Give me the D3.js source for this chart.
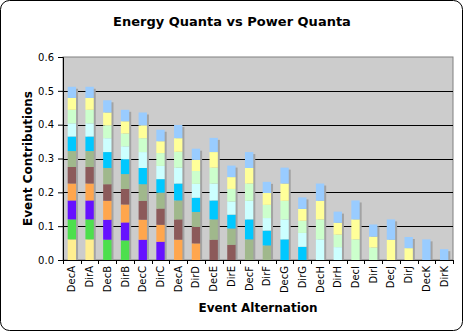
<!DOCTYPE html>
<html>
<head>
<meta charset="utf-8">
<script src="https://cdn.jsdelivr.net/npm/d3@7"></script>
<style>
  html, body { margin: 0; padding: 0; background: #fff; }
  svg { display: block; font-family: "DejaVu Sans", Verdana, sans-serif; }
</style>
</head>
<body>
<div id="chart"></div>
<script>
// categories along the x axis
const categories = ['DecA', 'DirA', 'DecB', 'DirB', 'DecC', 'DirC', 'DecA', 'DirD', 'DecE', 'DirE', 'DecF',
  'DirF', 'DecG', 'DirG', 'DecH', 'DirH', 'DecI', 'DirI', 'DecJ', 'DirJ', 'DecK', 'DirK'];

// stacked series, bottom to top
const s1 = [0.061, 0.061, 0, 0, 0, 0, 0, 0, 0, 0, 0, 0, 0, 0, 0, 0, 0, 0, 0, 0, 0, 0];
const s2 = [0.059, 0.059, 0.060, 0.058, 0, 0, 0, 0, 0, 0, 0, 0, 0, 0, 0, 0, 0, 0, 0, 0, 0, 0];
const s3 = [0.056, 0.056, 0.059, 0.053, 0.060, 0.054, 0, 0, 0, 0, 0, 0, 0, 0, 0, 0, 0, 0, 0, 0, 0, 0];
const s4 = [0.050, 0.050, 0.056, 0.053, 0.059, 0.050, 0.060, 0.049, 0, 0, 0, 0, 0, 0, 0, 0, 0, 0, 0, 0, 0, 0];
const s5 = [0.049, 0.049, 0.049, 0.046, 0.056, 0.048, 0.060, 0.049, 0.060, 0.045, 0, 0, 0, 0, 0, 0, 0, 0, 0, 0, 0, 0];
const s6 = [0.047, 0.047, 0.048, 0.044, 0.049, 0.047, 0.056, 0.044, 0.060, 0.048, 0.061, 0.043, 0, 0, 0, 0, 0, 0, 0, 0, 0, 0];
const s7 = [0.043, 0.043, 0.047, 0.044, 0.048, 0.040, 0.050, 0.042, 0.056, 0.041, 0.059, 0.044, 0.061, 0.039, 0, 0, 0, 0, 0, 0, 0, 0];
const s8 = [0.039, 0.039, 0.041, 0.038, 0.047, 0.039, 0.047, 0.041, 0.050, 0.039, 0.055, 0.037, 0.059, 0.041, 0.061, 0.038, 0, 0, 0, 0, 0, 0];
const s9 = [0.040, 0.040, 0.038, 0.038, 0.041, 0.038, 0.047, 0.038, 0.047, 0.037, 0.051, 0.039, 0.055, 0.036, 0.059, 0.037, 0.061, 0.037, 0, 0, 0, 0];
const s10 = [0.035, 0.035, 0.038, 0.036, 0.038, 0.035, 0.040, 0.033, 0.046, 0.035, 0.046, 0.035, 0.051, 0.035, 0.055, 0.035, 0.059, 0.032, 0.060, 0.035, 0, 0];
const s11 = [0.033, 0.033, 0.036, 0.034, 0.038, 0.034, 0.039, 0.033, 0.042, 0.034, 0.047, 0.033, 0.047, 0.034, 0.051, 0.033, 0.056, 0.036, 0.060, 0.033, 0.061, 0.032];

const seriesValues = [s1, s2, s3, s4, s5, s6, s7, s8, s9, s10, s11];
const seriesColors = ['#ffee90', '#4ddf4d', '#6611ff', '#ffa64d', '#8c5a5a', '#a0b88c',
  '#00c8ff', '#ccffff', '#ccffcc', '#ffff99', '#99ccff'];

const yTicks = [0, 0.1, 0.2, 0.3, 0.4, 0.5, 0.6];

const W = 465, H = 332;
const m = { left: 63, right: 12, top: 57, bottom: 72 };
const pw = W - m.left - m.right, ph = H - m.top - m.bottom;

const svg = d3.select('#chart').append('svg')
  .attr('width', W).attr('height', H);

// outer frame
svg.append('rect')
  .attr('x', 0.5).attr('y', 0.5)
  .attr('width', 462).attr('height', 330)
  .attr('rx', 9)
  .attr('fill', '#fff')
  .attr('stroke', '#000');

svg.append('text')
  .attr('x', 232).attr('y', 26)
  .attr('text-anchor', 'middle')
  .attr('font-size', 13).attr('font-weight', 'bold')
  .text('Energy Quanta vs Power Quanta');

const g = svg.append('g').attr('transform', `translate(${m.left},${m.top})`);

const idx = categories.map((_, i) => i);
const x = d3.scaleBand().domain(idx).range([0, pw]).paddingInner(0.53).paddingOuter(0.265);
const y = d3.scaleLinear().domain([0, 0.6]).range([ph, 0]);

// plot background
g.append('rect')
  .attr('width', pw).attr('height', ph)
  .attr('fill', '#cccccc')
  .attr('stroke', '#808080');

// gridlines
g.selectAll('line.grid')
  .data(yTicks.filter(t => t > 0 && t < 0.6))
  .enter().append('line')
  .attr('class', 'grid')
  .attr('x1', 0).attr('x2', pw)
  .attr('y1', d => Math.round(y(d)) + 0.5).attr('y2', d => Math.round(y(d)) + 0.5)
  .attr('stroke', '#000');

// stacked data
const rows = idx.map(i => {
  const r = { i };
  seriesValues.forEach((s, k) => { r['s' + k] = s[i]; });
  return r;
});
const keys = seriesValues.map((_, k) => 's' + k);
const stacked = d3.stack().keys(keys)(rows);

// bar shadows
g.selectAll('rect.shadow')
  .data(rows)
  .enter().append('rect')
  .attr('class', 'shadow')
  .attr('x', d => x(d.i) + 2)
  .attr('y', d => y(d3.sum(keys, k => d[k])) + 2)
  .attr('width', x.bandwidth())
  .attr('height', d => ph - y(d3.sum(keys, k => d[k])) - 2)
  .attr('fill', '#a3a3a3');

g.selectAll('g.layer')
  .data(stacked)
  .enter().append('g')
  .attr('class', 'layer')
  .attr('fill', (d, k) => seriesColors[k])
  .selectAll('rect')
  .data(d => d.filter(p => p[1] - p[0] > 0))
  .enter().append('rect')
  .attr('x', p => x(p.data.i))
  .attr('y', p => y(p[1]))
  .attr('width', x.bandwidth())
  .attr('height', p => y(p[0]) - y(p[1]));

// y axis
const yAxis = g.append('g')
  .call(d3.axisLeft(y).tickValues(yTicks).tickFormat(d3.format('.1f')).tickSize(5));
yAxis.select('.domain').attr('stroke', '#000');
yAxis.selectAll('text').attr('font-size', 10).attr('font-family', '"DejaVu Sans", sans-serif').attr('dx', -1);

// x axis: ticks between categories
g.append('line')
  .attr('x1', 0).attr('x2', pw)
  .attr('y1', ph + 0.5).attr('y2', ph + 0.5)
  .attr('stroke', '#000');
g.selectAll('line.xtick')
  .data(d3.range(categories.length + 1))
  .enter().append('line')
  .attr('class', 'xtick')
  .attr('x1', i => Math.round(i * pw / categories.length) + 0.5)
  .attr('x2', i => Math.round(i * pw / categories.length) + 0.5)
  .attr('y1', ph).attr('y2', ph + 4)
  .attr('stroke', '#000');

g.selectAll('text.xlab')
  .data(idx)
  .enter().append('text')
  .attr('class', 'xlab')
  .attr('transform', i => `translate(${x(i) + x.bandwidth() / 2 + 3.5},${ph + 6}) rotate(-90)`)
  .attr('text-anchor', 'end')
  .attr('font-size', 10)
  .text(i => categories[i]);

// axis titles
svg.append('text')
  .attr('x', m.left + pw / 2).attr('y', 312)
  .attr('text-anchor', 'middle')
  .attr('font-size', 12).attr('font-weight', 'bold')
  .text('Event Alternation');

svg.append('text')
  .attr('transform', `translate(32,${m.top + ph / 2}) rotate(-90)`)
  .attr('text-anchor', 'middle')
  .attr('font-size', 12).attr('font-weight', 'bold')
  .text('Event Contributions');
</script>
</body>
</html>
